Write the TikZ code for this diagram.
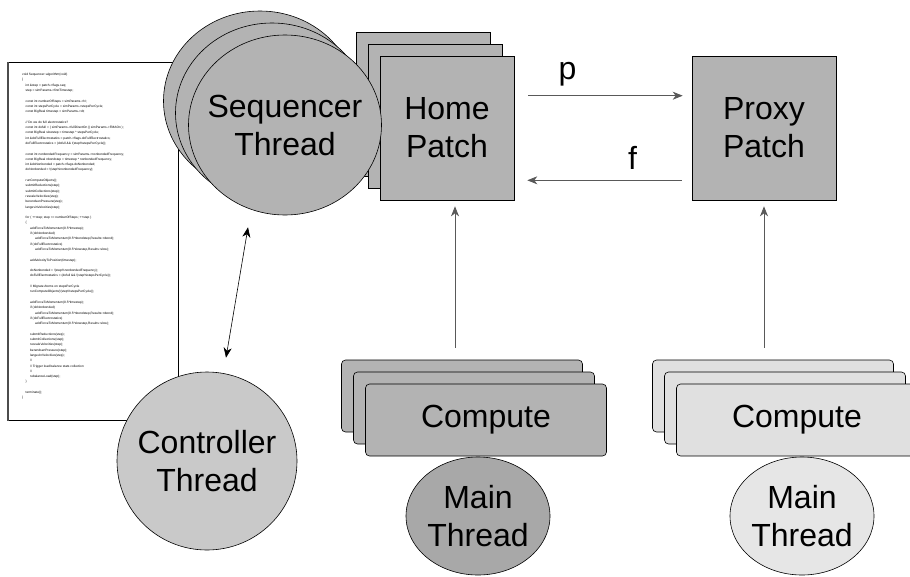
\documentclass[tikz,border=0pt]{standalone}
\usepackage{fontspec}
\setmainfont{Liberation Sans}
\usepackage{tikz}
\usetikzlibrary{arrows.meta, positioning, calc, shapes.geometric}
\definecolor{thrgray}{HTML}{B3B3B3}
\definecolor{patchgray}{HTML}{B3B3B3}
\definecolor{ctrlgray}{HTML}{C9C9C9}
\definecolor{maindark}{HTML}{A8A8A8}
\definecolor{complight}{HTML}{E0E0E0}
\definecolor{mainlight}{HTML}{E6E6E6}
\newcommand{\cind}[1]{\hspace*{#1pt}}
\tikzset{
  seqthr/.style   = {ellipse, draw, fill=thrgray, line width=0.6pt,
                     minimum width=193pt, minimum height=180pt, inner sep=0pt},
  ctrlthr/.style  = {seqthr, fill=ctrlgray, minimum width=180pt, minimum height=178pt},
  mainthr/.style  = {ellipse, draw, line width=0.6pt,
                     minimum width=144pt, minimum height=118pt, inner sep=0pt},
  patchbox/.style = {draw, fill=patchgray, line width=0.6pt,
                     minimum width=134pt, minimum height=144pt, inner sep=0pt},
  compbox/.style  = {draw, rounded corners=4pt, line width=0.6pt,
                     minimum width=241pt, minimum height=72pt, inner sep=0pt},
  bigtxt/.style   = {font=\fontsize{32}{38}\selectfont, align=center, inner sep=0pt},
  codetxt/.style  = {font=\fontsize{3.2}{5.3}\selectfont, align=left, inner sep=0pt},
  msg/.style      = {draw=black!65, line width=0.8pt,
                     -{Stealth[length=10pt, width=8pt, inset=3pt]}},
  ctl/.style      = {draw=black, line width=0.6pt,
                     {Stealth[length=10pt, width=8pt, inset=3pt]}-{Stealth[length=10pt, width=8pt, inset=3pt]}},
}

\begin{document}
\begin{tikzpicture}[x=1pt, y=-1pt]
  \useasboundingbox (0,0) rectangle (910,576);

  % source listing
  \node[draw, line width=0.6pt, minimum width=170pt, minimum height=358pt, anchor=north west]
       (code) at (8,62) {};
  \draw[line width=2.2pt, draw=black!70] (code.north west) -- (code.south west);
  \node[codetxt, anchor=north west] (listing) at (22,73) {%
    void Sequencer::algorithm(void)\\
    \{\\
    \cind{3.5}int \&step = patch->flags.seq;\\
    \cind{3.5}step = simParams->firstTimestep;\\
    \mbox{}\\
    \cind{3.5}const int numberOfSteps = simParams->N;\\
    \cind{3.5}const int stepsPerCycle = simParams->stepsPerCycle;\\
    \cind{3.5}const BigReal timestep = simParams->dt;\\
    \mbox{}\\
    \cind{3.5}// Do we do full electrostatics?\\
    \cind{3.5}const int dofull = ( simParams->fullDirectOn || simParams->FMAOn );\\
    \cind{3.5}const BigReal slowstep = timestep * stepsPerCycle;\\
    \cind{3.5}int \&doFullElectrostatics = patch->flags.doFullElectrostatics;\\
    \cind{3.5}doFullElectrostatics = (dofull \&\& !(step\%stepsPerCycle));\\
    \mbox{}\\
    \cind{3.5}const int nonbondedFrequency = simParams->nonbondedFrequency;\\
    \cind{3.5}const BigReal nbondstep = timestep * nonbondedFrequency;\\
    \cind{3.5}int \&doNonbonded = patch->flags.doNonbonded;\\
    \cind{3.5}doNonbonded = !(step\%nonbondedFrequency);\\
    \mbox{}\\
    \cind{3.5}runComputeObjects();\\
    \cind{3.5}submitReductions(step);\\
    \cind{3.5}submitCollections(step);\\
    \cind{3.5}rescaleVelocities(step);\\
    \cind{3.5}berendsenPressure(step);\\
    \cind{3.5}langevinVelocities(step);\\
    \mbox{}\\
    \cind{3.5}for ( ++step; step <= numberOfSteps; ++step )\\
    \cind{3.5}\{\\
    \cind{8}addForceToMomentum(0.5*timestep);\\
    \cind{8}if (doNonbonded)\\
    \cind{13}addForceToMomentum(0.5*nbondstep,Results::nbond);\\
    \cind{8}if (doFullElectrostatics)\\
    \cind{13}addForceToMomentum(0.5*slowstep,Results::slow);\\
    \mbox{}\\
    \cind{8}addVelocityToPosition(timestep);\\
    \mbox{}\\
    \cind{8}doNonbonded = !(step\%nonbondedFrequency);\\
    \cind{8}doFullElectrostatics = (dofull \&\& !(step\%stepsPerCycle));\\
    \mbox{}\\
    \cind{8}// Migrate Atoms on stepsPerCycle\\
    \cind{8}runComputeObjects(!(step\%stepsPerCycle));\\
    \mbox{}\\
    \cind{8}addForceToMomentum(0.5*timestep);\\
    \cind{8}if (doNonbonded)\\
    \cind{13}addForceToMomentum(0.5*nbondstep,Results::nbond);\\
    \cind{8}if (doFullElectrostatics)\\
    \cind{13}addForceToMomentum(0.5*slowstep,Results::slow);\\
    \mbox{}\\
    \cind{8}submitReductions(step);\\
    \cind{8}submitCollections(step);\\
    \cind{8}rescaleVelocities(step);\\
    \cind{8}berendsenPressure(step);\\
    \cind{8}langevinVelocities(step);\\
    \cind{8}//\\
    \cind{8}// Trigger load balance stats collection\\
    \cind{8}//\\
    \cind{8}rebalanceLoad(step);\\
    \cind{3.5}\}\\
    \mbox{}\\
    \cind{3.5}terminate();\\
    \}};

  % home patch stack
  \node[patchbox] (home1) at (423,104) {};
  \node[patchbox] (home2) at ($(home1)+(12,12)$) {};
  \node[patchbox] (home3) at ($(home2)+(12,12)$) {};
  \node[bigtxt] (hometxt) at (home3) {Home\\Patch};

  % sequencer threads
  \node[seqthr] (seq1) at (260,101) {};
  \node[seqthr] (seq2) at (272,113) {};
  \node[seqthr] (seq3) at (285,125) {};
  \node[bigtxt] (seqtxt) at (seq3) {Sequencer\\Thread};

  % proxy patch
  \node[patchbox, minimum width=144pt] (proxy) at (764,128) {};
  \node[bigtxt] (proxytxt) at (proxy) {Proxy\\Patch};

  \draw[msg] ($(home3.north east)+(14,40)$) -- ($(proxy.north west)+(-9,40)$)
        node[bigtxt, midway, above=9pt, xshift=-38pt] (plbl) {p};
  \draw[msg] ($(proxy.south west)+(-10,-20)$) -- ($(home3.south east)+(13,-20)$)
        node[bigtxt, midway, above=10pt, xshift=28pt] (flbl) {f};

  % controller
  \node[ctrlthr] (ctrl) at (207,461) {};
  \node[bigtxt] (ctrltxt) at (ctrl) {Controller\\Thread};
  \draw[ctl] ($(seq3.south)+(-37,12)$) -- ($(ctrl.north)+(19,-14)$);

  % home side computes
  \node[compbox, fill=patchgray] (hcomp1) at (462,396) {};
  \node[compbox, fill=patchgray] (hcomp2) at ($(hcomp1)+(12,12)$) {};
  \node[compbox, fill=patchgray] (hcomp3) at ($(hcomp2)+(12,12)$) {};
  \node[bigtxt] (hcomptxt) at (hcomp3) {Compute};
  \node[mainthr, fill=maindark] (hmain) at (478,516) {};
  \node[bigtxt] (hmaintxt) at (hmain) {Main\\Thread};
  \draw[msg] ($(hcomp1.north)+(-7,-12)$) -- ($(home3.south)+(8,6)$);

  % proxy side computes
  \node[compbox, fill=complight] (pcomp1) at (773,396) {};
  \node[compbox, fill=complight] (pcomp2) at ($(pcomp1)+(12,12)$) {};
  \node[compbox, fill=complight] (pcomp3) at ($(pcomp2)+(12,12)$) {};
  \node[bigtxt] (pcomptxt) at (pcomp3) {Compute};
  \node[mainthr, fill=mainlight] (pmain) at (802,516) {};
  \node[bigtxt] (pmaintxt) at (pmain) {Main\\Thread};
  \draw[msg] ($(pcomp1.north)+(-9,-12)$) -- ($(proxy.south)+(0,6)$);
\end{tikzpicture}
\end{document}
